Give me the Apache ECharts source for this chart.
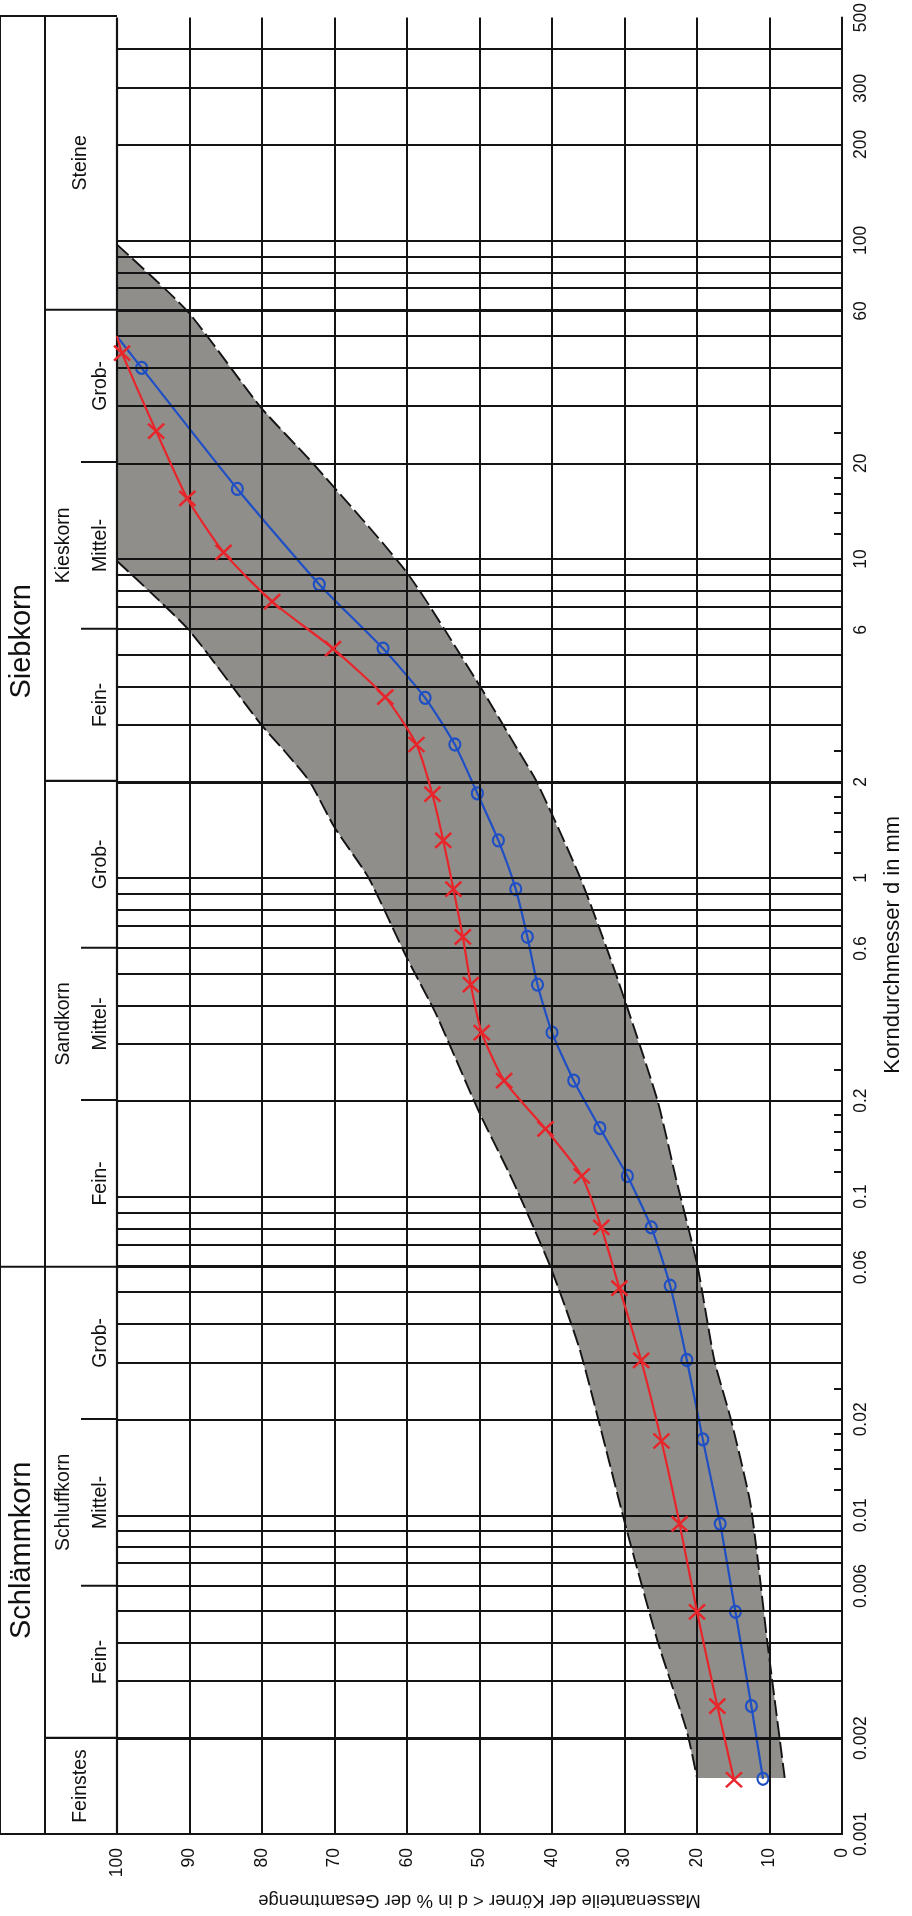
<!DOCTYPE html>
<html>
<head>
<meta charset="utf-8">
<title>Körnungslinie</title>
<script src="https://cdn.jsdelivr.net/npm/echarts@6/dist/echarts.min.js"></script>
<style>
html, body { margin: 0; padding: 0; background: #fff; }
#chart { width: 912px; height: 1916px; }
</style>
</head>
<body>
<div id="chart"></div>
<script>
// Körnungslinie: Massenanteil in % gegen Korndurchmesser d in mm (log)

// Kurve rot (x)
var redD   = [50, 44.3, 25.2, 15.5, 10.5, 7.35, 5.24, 3.69, 2.62, 1.83, 1.31, 0.922, 0.653, 0.462, 0.327, 0.231, 0.163, 0.116, 0.080, 0.0516, 0.0306, 0.0171, 0.0094, 0.00498, 0.00252, 0.00148];
var redPct = [100, 99.3, 94.6, 90.3, 85.3, 78.6, 70.2, 63.0, 58.7, 56.5, 55.0, 53.6, 52.3, 51.2, 49.7, 46.6, 40.9, 35.9, 33.2, 30.7, 27.7, 24.9, 22.4, 20.0, 17.2, 14.9];

// Kurve blau (o)
var blueD   = [50, 39.8, 16.6, 8.33, 5.24, 3.67, 2.62, 1.84, 1.31, 0.922, 0.653, 0.462, 0.327, 0.231, 0.164, 0.116, 0.080, 0.0525, 0.0307, 0.0173, 0.0094, 0.00498, 0.00252, 0.00149];
var bluePct = [100, 96.6, 83.4, 72.1, 63.3, 57.5, 53.4, 50.3, 47.4, 45.0, 43.4, 42.0, 40.0, 37.0, 33.4, 29.6, 26.3, 23.7, 21.4, 19.2, 16.8, 14.7, 12.5, 10.9];

// Grenzsieblinien des grauen Bereichs
var bandLowD   = [97, 60, 30, 20, 9.06, 4.05, 2.54, 2.0, 1.0, 0.5, 0.202, 0.114, 0.06, 0.0306, 0.0199, 0.0111, 0.0072, 0.004, 0.0015];
var bandLowPct = [100, 90.3, 80.2, 73.0, 60.0, 50.1, 44.8, 42.1, 36.1, 31.2, 25.5, 22.9, 19.9, 17.6, 15.3, 12.7, 11.6, 10.3, 7.9];
var bandUpD    = [9.86, 6.03, 3.04, 2.5, 2.0, 1.44, 1.0, 0.56, 0.374, 0.185, 0.112, 0.06, 0.0327, 0.009, 0.004, 0.0021, 0.0015];
var bandUpPct  = [100, 90.2, 80.2, 76.9, 73.4, 70.0, 65.3, 60.0, 56.0, 50.1, 45.4, 40.2, 36.1, 29.7, 25.4, 21.4, 20.0];

// Achsen
var D_MIN = 0.001, D_MAX = 500;
var dLabels = [0.001, 0.002, 0.006, 0.01, 0.02, 0.06, 0.1, 0.2, 0.6, 1, 2, 6, 10, 20, 60, 100, 200, 300, 500];
var minorMantissa = [1.2, 1.4, 1.6, 1.8, 2.5];
var minorDecades = [0.01, 0.1, 1, 10];
var gridMantissa = [1, 2, 3, 4, 5, 6, 7, 8, 9];
var gridDecades = [0.001, 0.01, 0.1, 1, 10, 100];
var pctTicks = [0, 10, 20, 30, 40, 50, 60, 70, 80, 90, 100];

// Kopfleiste
var mainNames = ['Schlämmkorn', 'Siebkorn'];
var mainBounds = [0.001, 0.06, 500];
var groupNames = ['Feinstes', 'Schluffkorn', 'Sandkorn', 'Kieskorn', 'Steine'];
var groupBounds = [0.001, 0.002, 0.06, 2, 60, 500];
var subNames = ['Fein-', 'Mittel-', 'Grob-'];
var subBounds = [0.002, 0.006, 0.02, 0.06, 0.2, 0.6, 2, 6, 20, 60];

var FONT = "'Liberation Sans', Arial, sans-serif";
var INK = '#141414';
var TEXT = '#111';
var HEAD_W = 117, COL_OUTER = 45, COL_SUB = 81;

// schmale Schrift für die Kopfleiste, falls vorhanden
function hasFont(name) {
    var c = document.createElement('canvas').getContext('2d');
    var s = 'Schluffkorn Mittel 0123456789';
    c.font = '40px monospace';
    var w0 = c.measureText(s).width;
    c.font = "40px '" + name + "', monospace";
    return Math.abs(c.measureText(s).width - w0) > 0.5;
}
var HAS_NARROW = hasFont('Liberation Sans Narrow');
var NARROW = HAS_NARROW ? "'Liberation Sans Narrow', sans-serif" : FONT;
var NARROW_SIZE = HAS_NARROW ? 23 : 19.5;

function lg(d) { return Math.log10(d); }
function mid(a, b) { return (lg(a) + lg(b)) / 2; }
function pts(ds, ps) {
    return ds.map(function (d, i) { return [ps[i], lg(d)]; });
}
function curve(ds, ps) {
    return ds.map(function (d, i) {
        var item = { value: [ps[i], lg(d)] };
        if (ps[i] >= 100) item.symbol = 'none';
        return item;
    });
}

var bandPoly = pts(bandLowD, bandLowPct).concat(pts(bandUpD, bandUpPct).reverse());

var gridLines = [];
gridDecades.forEach(function (dec) {
    gridMantissa.forEach(function (m) {
        var v = +(m * dec).toPrecision(3);
        if (v > D_MIN && v < D_MAX) {
            gridLines.push({ yAxis: lg(v), lineStyle: { width: groupBounds.indexOf(v) >= 0 ? 3 : 2 } });
        }
    });
});
gridLines.push({ yAxis: lg(D_MAX), lineStyle: { width: 2 } });
pctTicks.forEach(function (p) {
    if (p > 0) gridLines.push({ xAxis: p, lineStyle: { width: p === 100 ? 2.2 : 2 } });
});

var minorTicks = [];
minorDecades.forEach(function (dec) {
    minorMantissa.forEach(function (m) { minorTicks.push(lg(m * dec)); });
});

// Linien der Kopfleiste [x1, y1, x2, y2, Breite]
var headSegs = [
    [0, lg(D_MIN), 0, lg(D_MAX), 2],
    [COL_OUTER, lg(D_MIN), COL_OUTER, lg(D_MAX), 2],
    [0, lg(D_MAX), HEAD_W, lg(D_MAX), 2],
    [0, lg(D_MIN), HEAD_W, lg(D_MIN), 2]
];
mainBounds.slice(1, -1).forEach(function (b) {
    headSegs.push([0, lg(b), HEAD_W, lg(b), 2.2]);
});
groupBounds.slice(1, -1).forEach(function (b) {
    if (mainBounds.indexOf(b) < 0) headSegs.push([COL_OUTER, lg(b), HEAD_W, lg(b), 2.2]);
});
subBounds.forEach(function (b) {
    if (groupBounds.indexOf(b) < 0) headSegs.push([COL_SUB, lg(b), HEAD_W, lg(b), 2]);
});

var headTexts = [];
mainNames.forEach(function (n, i) {
    headTexts.push({ name: n, value: [22, mid(mainBounds[i], mainBounds[i + 1])], size: 29, font: FONT });
});
groupNames.forEach(function (n, i) {
    var hasSub = i > 0 && i < groupNames.length - 1;
    headTexts.push({ name: n, value: [hasSub ? 64 : 81, mid(groupBounds[i], groupBounds[i + 1])], size: NARROW_SIZE, font: NARROW });
});
for (var k = 0; k < subBounds.length - 1; k++) {
    headTexts.push({ name: subNames[k % 3], value: [101, mid(subBounds[k], subBounds[k + 1])], size: NARROW_SIZE, font: NARROW });
}

var chart = echarts.init(document.getElementById('chart'));
chart.setOption({
    animation: false,
    backgroundColor: '#fff',
    grid: [
        { left: HEAD_W, right: 61, top: 16, bottom: 82 },
        { left: 0, width: HEAD_W, top: 16, bottom: 82 }
    ],
    xAxis: [
        {
            gridIndex: 0, type: 'value', min: 0, max: 100, interval: 10, inverse: true, position: 'bottom',
            axisLine: { show: true, onZero: false, lineStyle: { color: INK, width: 2 } },
            axisTick: { show: false },
            splitLine: { show: false },
            axisLabel: { rotate: 90, margin: 14, padding: [0, 0, 12, 0], fontSize: 17.5, color: TEXT, fontFamily: FONT },
            name: 'Massenanteile der Körner < d in % der Gesamtmenge',
            nameLocation: 'middle', nameGap: 57, nameRotate: 180,
            nameTextStyle: { fontSize: 18.5, color: TEXT, fontFamily: FONT }
        },
        { gridIndex: 1, type: 'value', min: 0, max: HEAD_W, show: false }
    ],
    yAxis: [
        {
            gridIndex: 0, type: 'value', min: lg(D_MIN), max: lg(D_MAX), position: 'right',
            axisLine: { show: true, onZero: false, lineStyle: { color: INK, width: 2 } },
            axisTick: { show: true, inside: true, length: 8, customValues: minorTicks, lineStyle: { color: INK, width: 2 } },
            axisLabel: {
                customValues: dLabels.map(lg), rotate: 90, margin: 10, fontSize: 17.5, color: TEXT, fontFamily: FONT,
                formatter: function (v) { return String(Number(Math.pow(10, v).toPrecision(2))); }
            },
            splitLine: { show: false },
            name: 'Korndurchmesser d in mm',
            nameLocation: 'middle', nameGap: 40, nameRotate: 90,
            nameTextStyle: { fontSize: 22, color: TEXT, fontFamily: FONT, padding: [0, 38, 0, 0] }
        },
        { gridIndex: 1, type: 'value', min: lg(D_MIN), max: lg(D_MAX), show: false }
    ],
    series: [
        {
            type: 'custom', name: 'Bereich', xAxisIndex: 0, yAxisIndex: 0, z: 1, silent: true, clip: false,
            data: [[0, 0]],
            renderItem: function (params, api) {
                return {
                    type: 'polygon',
                    shape: { points: bandPoly.map(function (p) { return api.coord(p); }) },
                    style: { fill: '#908e8b', stroke: 'none' }
                };
            }
        },
        {
            type: 'line', name: 'Gitter', xAxisIndex: 0, yAxisIndex: 0, z: 2, silent: true, data: [],
            markLine: {
                silent: true, symbol: ['none', 'none'], label: { show: false },
                lineStyle: { color: INK, width: 2, type: 'solid' },
                data: gridLines
            }
        },
        {
            type: 'line', name: 'Grenze fein', z: 3, silent: true, smooth: 0.2, showSymbol: false,
            data: pts(bandLowD, bandLowPct),
            lineStyle: { color: INK, width: 1.9, type: [16, 5] }
        },
        {
            type: 'line', name: 'Grenze grob', z: 3, silent: true, smooth: 0.2, showSymbol: false,
            data: pts(bandUpD, bandUpPct),
            lineStyle: { color: INK, width: 1.9, type: [16, 5] }
        },
        {
            type: 'line', name: 'blau', z: 4, smooth: 0.2,
            data: curve(blueD, bluePct),
            symbol: 'circle', symbolSize: [11, 12],
            lineStyle: { color: '#1f4fc4', width: 2.2 },
            itemStyle: { color: 'rgba(0,0,0,0)', borderColor: '#1f4fc4', borderWidth: 2.2 }
        },
        {
            type: 'line', name: 'rot', z: 5, smooth: 0.2,
            data: curve(redD, redPct),
            symbol: 'path://M0 0L10 10M10 0L0 10', symbolSize: [16, 15],
            lineStyle: { color: '#e8252a', width: 2.2 },
            itemStyle: { color: '#e8252a', borderColor: '#e8252a', borderWidth: 2.5 }
        },
        {
            type: 'custom', name: 'Kopf', xAxisIndex: 1, yAxisIndex: 1, z: 2, silent: true, clip: false,
            data: headSegs,
            encode: { x: [0, 2], y: [1, 3] },
            renderItem: function (params, api) {
                var a = api.coord([api.value(0), api.value(1)]);
                var b = api.coord([api.value(2), api.value(3)]);
                return {
                    type: 'line',
                    shape: { x1: a[0], y1: a[1], x2: b[0], y2: b[1] },
                    style: { stroke: INK, lineWidth: api.value(4) }
                };
            }
        },
        {
            type: 'custom', name: 'Kopftext', xAxisIndex: 1, yAxisIndex: 1, z: 3, silent: true, clip: false,
            data: headTexts,
            renderItem: function (params, api) {
                var t = headTexts[params.dataIndex];
                var p = api.coord(t.value);
                return {
                    type: 'text', x: p[0], y: p[1], rotation: Math.PI / 2,
                    style: {
                        text: t.name, fill: TEXT, fontSize: t.size, fontFamily: t.font,
                        align: 'center', verticalAlign: 'middle'
                    }
                };
            }
        }
    ]
});
</script>
</body>
</html>
